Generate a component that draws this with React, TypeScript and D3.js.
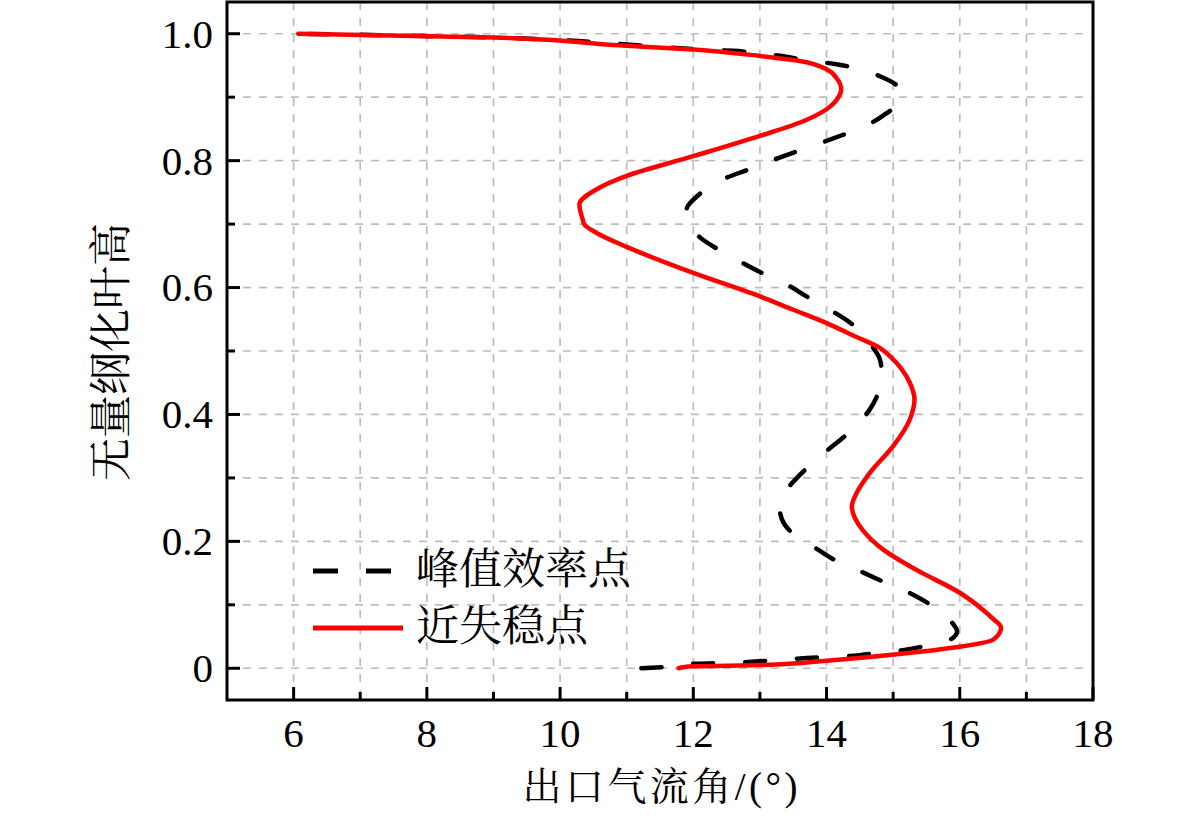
import * as d3 from "d3";

const W = 1181;
const H = 816;
const PLOT = { left: 227, right: 1093, top: 2, bottom: 700 };

const X_DOMAIN: [number, number] = [5, 18];
const Y_DOMAIN: [number, number] = [-0.05, 1.05];
const X_MAJOR = [6, 8, 10, 12, 14, 16, 18];
const X_MINOR = [7, 9, 11, 13, 15, 17];
const Y_MAJOR = [0, 0.2, 0.4, 0.6, 0.8, 1.0];
const Y_MINOR = [0.1, 0.3, 0.5, 0.7, 0.9];
const X_GRID = [6, 7, 8, 9, 10, 11, 12, 13, 14, 15, 16, 17];
const Y_GRID = [0, 0.1, 0.2, 0.3, 0.4, 0.5, 0.6, 0.7, 0.8, 0.9, 1.0];

const X_TITLE = "出口气流角/(°)";
const Y_TITLE = "无量纲化叶高";
const SERIES_NAMES = ["峰值效率点", "近失稳点"];

// 峰值效率点 (black dashed): height vs angle
const peakHeight = [
  0, 0.002, 0.007, 0.008, 0.011, 0.016, 0.019, 0.022, 0.028, 0.034, 0.043, 0.058,
  0.071, 0.097, 0.116, 0.134, 0.15, 0.168, 0.187, 0.21, 0.235, 0.258, 0.281, 0.308,
  0.338, 0.371, 0.408, 0.442, 0.465, 0.487, 0.508, 0.545, 0.565, 0.586, 0.605, 0.624,
  0.641, 0.659, 0.679, 0.7, 0.723, 0.745, 0.771, 0.785, 0.8, 0.814, 0.828, 0.84,
  0.853, 0.871, 0.893, 0.911, 0.933, 0.944, 0.952, 0.958, 0.964, 0.97, 0.973, 0.976,
  0.983, 0.994, 1.0,
];
const peakAngle = [
  11.22, 11.57, 12.0, 12.4, 13.0, 13.7, 14.3, 14.6, 15.1, 15.43, 15.82, 15.96,
  15.89, 15.6, 15.3, 14.9, 14.57, 14.17, 13.87, 13.52, 13.33, 13.29, 13.4, 13.63,
  13.95, 14.33, 14.65, 14.8, 14.83, 14.8, 14.68, 14.35, 14.05, 13.7, 13.4, 13.01,
  12.7, 12.39, 12.1, 11.95, 11.9, 12.07, 12.45, 12.8, 13.17, 13.54, 13.92, 14.23,
  14.55, 14.85, 15.08, 15.1, 14.8, 14.5, 14.15, 13.72, 13.37, 12.95, 12.6, 12.0,
  11.0, 9.0, 6.07,
];

// 近失稳点 (red solid): height vs angle
const stallHeight = [
  0, 0.003, 0.005, 0.012, 0.026, 0.034, 0.045, 0.064, 0.078, 0.092, 0.119, 0.155,
  0.187, 0.218, 0.255, 0.276, 0.308, 0.35, 0.392, 0.424, 0.45, 0.492, 0.505, 0.522,
  0.544, 0.565, 0.586, 0.623, 0.664, 0.686, 0.7, 0.707, 0.731, 0.755, 0.776, 0.807,
  0.839, 0.862, 0.881, 0.9, 0.912, 0.93, 0.944, 0.957, 0.965, 0.975, 0.981, 0.994, 1.0,
];
const stallAngle = [
  11.78, 12.0, 13.0, 14.0, 15.4, 16.0, 16.5, 16.62, 16.5, 16.35, 16.0, 15.35,
  14.85, 14.54, 14.38, 14.45, 14.65, 15.0, 15.25, 15.32, 15.25, 14.95, 14.8, 14.45,
  14.0, 13.5, 13.0, 12.0, 11.0, 10.55, 10.36, 10.34, 10.29, 10.55, 11.0, 12.0,
  13.0, 13.65, 14.0, 14.18, 14.22, 14.15, 14.0, 13.6, 13.0, 12.0, 11.0, 9.0, 6.07,
];

const FONT_LATIN = "Liberation Serif, Times New Roman, DejaVu Serif, serif";
const FONT_CJK = "Noto Serif CJK SC, Noto Sans CJK SC, sans-serif";

export default function App() {
  const x = d3.scaleLinear().domain(X_DOMAIN).range([PLOT.left, PLOT.right]);
  const y = d3.scaleLinear().domain(Y_DOMAIN).range([PLOT.bottom, PLOT.top]);

  const line = d3
    .line<[number, number]>()
    .x((d) => x(d[0]))
    .y((d) => y(d[1]))
    .curve(d3.curveMonotoneY);

  const peakPts = peakHeight.map((h, i) => [peakAngle[i], h] as [number, number]);
  const stallPts = stallHeight.map((h, i) => [stallAngle[i], h] as [number, number]);

  const fmtY = (d: number) => (d === 0 ? "0" : d.toFixed(1));

  return (
    <svg
      width={W}
      height={H}
      style={{ position: "absolute", left: 0, top: 0, background: "#fff" }}
    >
      <defs>
        <clipPath id="plotClip">
          <rect x={PLOT.left} y={PLOT.top} width={PLOT.right - PLOT.left} height={PLOT.bottom - PLOT.top} />
        </clipPath>
      </defs>

      {/* grid */}
      <g stroke="#bdbdbd" strokeWidth={1.7} strokeDasharray="8 8">
        {X_GRID.map((d) => (
          <line key={"gx" + d} x1={x(d)} x2={x(d)} y1={PLOT.top} y2={PLOT.bottom} />
        ))}
        {Y_GRID.map((d) => (
          <line key={"gy" + d} x1={PLOT.left} x2={PLOT.right} y1={y(d)} y2={y(d)} />
        ))}
      </g>

      {/* curves */}
      <g clipPath="url(#plotClip)" fill="none">
        <path
          d={line(peakPts) ?? ""}
          stroke="#000"
          strokeWidth={4.5}
          strokeDasharray="20 32"
          strokeLinecap="round"
        />
        <path d={line(stallPts) ?? ""} stroke="#ff0000" strokeWidth={4.5} strokeLinecap="round" strokeLinejoin="round" />
      </g>

      {/* ticks, inward */}
      <g stroke="#000" strokeWidth={3}>
        {X_MAJOR.map((d) => (
          <line key={"xt" + d} x1={x(d)} x2={x(d)} y1={PLOT.bottom} y2={PLOT.bottom - 13} />
        ))}
        {X_MINOR.map((d) => (
          <line key={"xm" + d} x1={x(d)} x2={x(d)} y1={PLOT.bottom} y2={PLOT.bottom - 8} />
        ))}
        {Y_MAJOR.map((d) => (
          <line key={"yt" + d} x1={PLOT.left} x2={PLOT.left + 13} y1={y(d)} y2={y(d)} />
        ))}
        {Y_MINOR.map((d) => (
          <line key={"ym" + d} x1={PLOT.left} x2={PLOT.left + 8} y1={y(d)} y2={y(d)} />
        ))}
      </g>

      {/* frame */}
      <rect
        x={PLOT.left}
        y={PLOT.top}
        width={PLOT.right - PLOT.left}
        height={PLOT.bottom - PLOT.top}
        fill="none"
        stroke="#000"
        strokeWidth={3}
      />

      {/* tick labels */}
      <g style={{ fontFamily: FONT_LATIN, fontSize: 41 }} fill="#000">
        {X_MAJOR.map((d) => (
          <text key={"xl" + d} x={x(d)} y={747} textAnchor="middle">
            {d}
          </text>
        ))}
        {Y_MAJOR.map((d) => (
          <text key={"yl" + d} x={213} y={y(d)} dy="0.34em" textAnchor="end">
            {fmtY(d)}
          </text>
        ))}
      </g>

      {/* axis titles */}
      <text
        x={(PLOT.left + PLOT.right) / 2}
        y={800}
        textAnchor="middle"
        style={{ fontFamily: `Liberation Serif, ${FONT_CJK}`, fontSize: 39 }}
        textLength={275}
        lengthAdjust="spacing"
      >
        {X_TITLE}
      </text>
      <text
        transform={`translate(126, 352) rotate(-90)`}
        textAnchor="middle"
        style={{ fontFamily: FONT_CJK, fontSize: 43 }}
      >
        {Y_TITLE}
      </text>

      {/* legend */}
      <g>
        <line x1={313} x2={392} y1={571} y2={571} stroke="#000" strokeWidth={5} strokeDasharray="25 28" />
        <line x1={313} x2={403} y1={628} y2={628} stroke="#ff0000" strokeWidth={5} />
        <text x={416} y={584} style={{ fontFamily: FONT_CJK, fontSize: 43 }}>
          {SERIES_NAMES[0]}
        </text>
        <text x={416} y={641} style={{ fontFamily: FONT_CJK, fontSize: 43 }}>
          {SERIES_NAMES[1]}
        </text>
      </g>
    </svg>
  );
}
